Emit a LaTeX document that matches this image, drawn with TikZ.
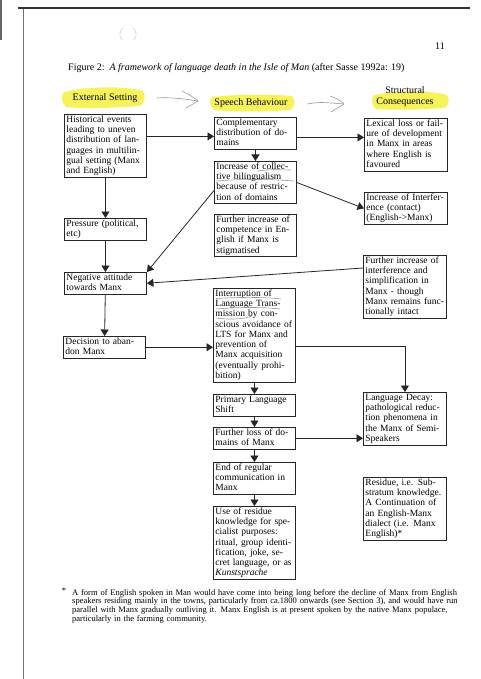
\documentclass[tikz,border=0pt]{standalone}
\usepackage{fontspec}
\setmainfont{Liberation Serif}
\usetikzlibrary{arrows.meta}
\newcommand{\jl}[1]{\makebox[\linewidth][s]{#1}\\}
\newcommand{\rl}[1]{\makebox[\linewidth][l]{#1}\\}
\newcommand{\lastl}[1]{\mbox{#1}}
\tikzset{
  box/.style={draw=black!85, line width=0.9pt, anchor=north west, inner xsep=2pt, inner ysep=0.5pt,
    text width=78pt, align=left, font=\fontsize{9.5}{10.3}\selectfont,
    execute at begin node=\strut, execute at end node=\strut},
  rbox/.style={box, text width=79pt},
  conn/.style={draw=black!85, line width=0.8pt, -{Triangle[width=8pt,length=6.5pt]}},
  hl/.style={fill={rgb,255:red,246;green,242;blue,92}, draw=none},
  pencil/.style={draw=black!40, line width=0.6pt},
  hdr/.style={font=\fontsize{10}{11}\selectfont, inner sep=0pt, align=center}
}
\begin{document}
\begin{tikzpicture}[x=1pt,y=-1pt]
\useasboundingbox (0,0) rectangle (480,679);
\fill[white] (0,0) rectangle (480,679);
% scan edges
\draw[black!80, line width=1.5pt] (18,8) -- (470,8);
\draw[black!55, line width=0.6pt] (23,9) -- (23,679);
\fill[black!60] (0,0) rectangle (2,40);
% faint pencil parentheses
\draw[black!18, line width=0.6pt] (123,28) .. controls (119,32) and (119,36) .. (122,40);
\draw[black!18, line width=0.6pt] (133,28) .. controls (137,32) and (137,36) .. (134,40);
% page number and title
\node[hdr] (pnum) at (440,46) {11};
\node[anchor=base west, font=\fontsize{10}{12}\selectfont, inner sep=0pt] (title) at (68,71)
  {Figure 2:\ \ \textit{A framework of language death in the Isle of Man} (after Sasse 1992a: 19)};
% highlights
\path[hl] (64,92) .. controls (90,86) and (125,86) .. (143,91) .. controls (146,96) and (145,103) .. (140,106)
  .. controls (110,108) and (85,109) .. (66,107) .. controls (61,102) and (61,96) .. (64,92) -- cycle;
\path[hl] (212,97) .. controls (240,94) and (270,94) .. (292,96) .. controls (296,101) and (295,107) .. (290,110)
  .. controls (260,112) and (235,112) .. (214,110) .. controls (209,105) and (209,100) .. (212,97) -- cycle;
\path[hl] (374,95) .. controls (400,90) and (430,90) .. (447,95) .. controls (450,100) and (449,106) .. (444,108)
  .. controls (415,110) and (395,110) .. (376,109) .. controls (371,104) and (371,99) .. (374,95) -- cycle;
% headers
\node[hdr] (hext) at (105,98) {External Setting};
\node[hdr] (hspeech) at (251,103) {Speech Behaviour};
\node[hdr] (hstruct) at (405,97) {Structural\\Consequences};
% hand-drawn header arrows
\coordinate (a1s) at (157,98); \coordinate (a1e) at (198,101);
\coordinate (a2s) at (307,104); \coordinate (a2e) at (344,104);
\draw[pencil] (a1s) .. controls (170,97) and (185,99) .. (a1e);
\draw[pencil] (182,91) .. controls (190,95) .. (a1e) .. controls (193,104) .. (186,108);
\draw[pencil] (a2s) .. controls (320,102) .. (a2e);
\draw[pencil] (330,96) .. controls (338,99) .. (a2e) .. controls (338,108) .. (331,112);

% left column
\node[box] (hist) at (64,114) {\jl{Historical events}\jl{leading to uneven}\jl{distribution of lan-}\jl{guages in multilin-}\jl{gual setting (Manx}\lastl{and English)}};
\node[box] (press) at (64,218) {\jl{Pressure (political,}\lastl{etc)}};
\node[box] (neg) at (64,272) {\rl{Negative attitude}\lastl{towards Manx}};
\node[box] (dec) at (63,336) {\rl{Decision to aban-}\lastl{don Manx}};

% middle column
\node[box] (comp) at (214,117) {\rl{Complementary}\jl{distribution of do-}\lastl{mains}};
\node[box] (coll) at (214,161) {\jl{Increase of collec-}\jl{tive bilingualism}\jl{because of restric-}\lastl{tion of domains}};
\node[box] (furth) at (214,214) {\jl{Further increase of}\jl{competence in En-}\jl{glish if Manx is}\lastl{stigmatised}};
\node[box] (interr) at (213,288) {\rl{Interruption of}\rl{Language Trans-}\jl{mission by con-}\jl{scious avoidance of}\jl{LTS for Manx and}\rl{prevention of}\rl{Manx acquisition}\jl{(eventually prohi-}\lastl{bition)}};
\node[box] (prim) at (213,394) {\rl{Primary Language}\lastl{Shift}};
\node[box] (loss) at (213,427) {\rl{Further loss of do-}\lastl{mains of Manx}};
\node[box] (endreg) at (213,462) {\rl{End of regular}\rl{communication in}\lastl{Manx}};
\node[box] (use) at (213,506) {\rl{Use of residue}\jl{knowledge for spe-}\jl{cialist purposes:}\jl{ritual, group identi-}\jl{fication, joke, se-}\jl{cret language, or as}\lastl{\textit{Kunstsprache}}};

% right column
\node[rbox] (lex) at (364,118) {\jl{Lexical loss or fail-}\jl{ure of development}\jl{in Manx in areas}\jl{where English is}\lastl{favoured}};
\node[rbox] (intf) at (364,192) {\jl{Increase of Interfer-}\rl{ence (contact)}\lastl{(English->Manx)}};
\node[rbox] (furtherint) at (363,255) {\jl{Further increase of}\jl{interference and}\jl{simplification in}\rl{Manx - though}\jl{Manx remains func-}\lastl{tionally intact}};
\node[rbox] (decay) at (363,392) {\rl{Language Decay:}\jl{pathological reduc-}\jl{tion phenomena in}\jl{the Manx of Semi-}\lastl{Speakers}};
\node[rbox] (resid) at (363,477) {\jl{Residue, i.e. Sub-}\jl{stratum knowledge.}\jl{A Continuation of}\rl{an English-Manx}\jl{dialect (i.e. Manx}\lastl{English)*}};

% pencil underlines
\draw[pencil] (257,171) .. controls (270,169) and (282,170) .. (291,170);
\draw[pencil] (216,181) .. controls (240,179) and (270,179) .. (294,181);
\draw[pencil] (216,298.5) .. controls (240,297) and (265,297) .. (281,299);
\draw[pencil] (216,309) .. controls (240,307) and (265,307) .. (280,309);
\draw[pencil] (216,318) .. controls (230,320) and (245,319) .. (252,316);

% connectors
\draw[conn] (hist) -- (press);
\draw[conn] (press) -- (neg);
\draw[conn] (neg) -- (dec);
\draw[conn] ([yshift=-3pt]comp.west -| hist.east) -- ([yshift=-3pt]comp.west);
\draw[conn] ([yshift=-4pt]comp.east) -- ([yshift=-4pt]comp.east -| lex.west);
\draw[conn] (comp) -- (coll);
\draw[conn] (coll.east) -- (intf.west);
\draw[conn] ([yshift=-8pt]coll.west) -- (neg.north east);
\draw[conn] ([yshift=-13pt]furtherint.north west) -- (neg.east);
\draw[conn] (dec.east) -- (dec.east -| interr.west);
\draw[conn] ([yshift=-11pt]interr.east) -| (decay.north);
\draw[conn] (interr) -- (prim);
\draw[conn] (prim) -- (loss);
\draw[conn] (loss) -- (endreg);
\draw[conn] (endreg) -- (use);
\draw[conn] (loss.east) -- (loss.east -| decay.west);

% footnote
\node[anchor=base, font=\fontsize{8.5}{8.7}\selectfont, inner sep=0pt] (star) at (64,593) {*};
\node[anchor=north west, text width=397pt, align=left, inner sep=0pt, font=\fontsize{8.5}{8.7}\selectfont,
  execute at begin node=\strut] (foot) at (72,589)
  {\jl{A form of English spoken in Man would have come into being long before the decline of Manx from English}\jl{speakers residing mainly in the towns, particularly from ca.1800 onwards (see Section 3), and would have run}\jl{parallel with Manx gradually outliving it. Manx English is at present spoken by the native Manx populace,}\lastl{particularly in the farming community.}};
\end{tikzpicture}
\end{document}
